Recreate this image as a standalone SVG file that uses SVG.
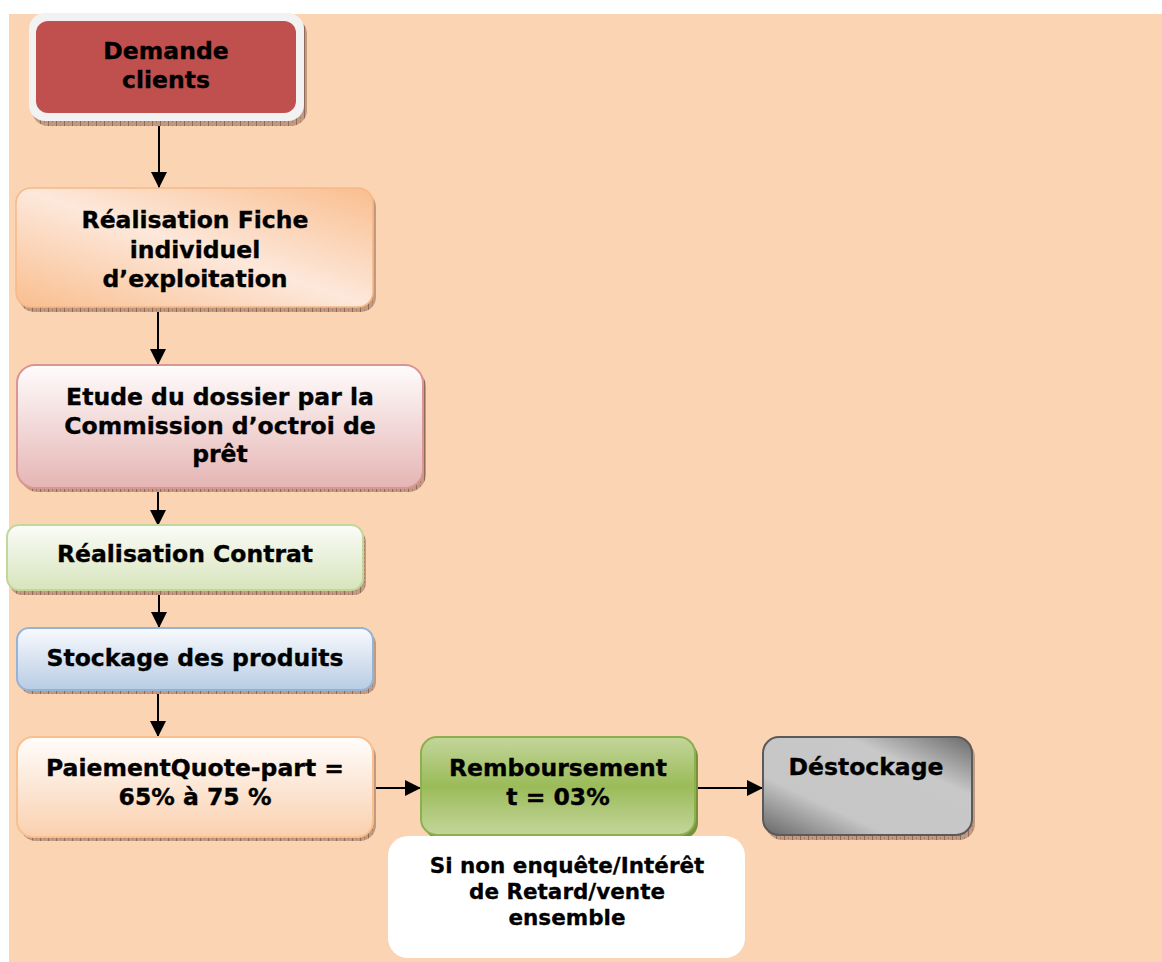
<svg xmlns="http://www.w3.org/2000/svg" width="1162" height="962" viewBox="0 0 1162 962">
  <defs>
    <style>
      .lbl { font-family: "DejaVu Sans", Verdana, sans-serif; font-weight: bold; font-size: 23.5px; fill: #000; stroke: #000; stroke-width: 0.35; text-anchor: middle; }
      .note { font-family: "DejaVu Sans", Tahoma, sans-serif; font-weight: bold; font-size: 21.5px; fill: #000; stroke: #000; stroke-width: 0.3; text-anchor: middle; }
      .conn { stroke: #000; stroke-width: 2; fill: none; marker-end: url(#arrow); }
      .shadow { fill: url(#hatch); }
    </style>
    <pattern id="hatch" patternUnits="userSpaceOnUse" width="8" height="4">
      <rect width="8" height="4" fill="#c29a80"/>
      <line x1="0.5" y1="0" x2="0.5" y2="4" stroke="#8e6b5a" stroke-width="1"/>
      <line x1="4.5" y1="1" x2="4.5" y2="3" stroke="#a88068" stroke-width="1"/>
    </pattern>
    <marker id="arrow" markerUnits="userSpaceOnUse" markerWidth="17" markerHeight="17" refX="16" refY="8" orient="auto">
      <path d="M0,0 L16,8 L0,16 z" fill="#000"/>
    </marker>
    <linearGradient id="gFiche" x1="1" y1="0" x2="0" y2="1">
      <stop offset="0" stop-color="#f9be8e"/>
      <stop offset="0.5" stop-color="#fde8db"/>
      <stop offset="1" stop-color="#f9be8e"/>
    </linearGradient>
    <linearGradient id="gEtude" x1="0" y1="0" x2="0" y2="1">
      <stop offset="0" stop-color="#fffcfc"/>
      <stop offset="1" stop-color="#e5b5b4"/>
    </linearGradient>
    <linearGradient id="gContrat" x1="0" y1="0" x2="0" y2="1">
      <stop offset="0" stop-color="#fbfcf8"/>
      <stop offset="1" stop-color="#d7e4bc"/>
    </linearGradient>
    <linearGradient id="gStock" x1="0" y1="0" x2="0" y2="1">
      <stop offset="0" stop-color="#f8fafd"/>
      <stop offset="1" stop-color="#b8cce4"/>
    </linearGradient>
    <linearGradient id="gPaie" x1="0" y1="0" x2="0" y2="1">
      <stop offset="0" stop-color="#fffdfc"/>
      <stop offset="1" stop-color="#fad0ae"/>
    </linearGradient>
    <linearGradient id="gRemb" x1="0" y1="0" x2="0" y2="1">
      <stop offset="0" stop-color="#c3d69b"/>
      <stop offset="0.5" stop-color="#9bbb59"/>
      <stop offset="1" stop-color="#c3d69b"/>
    </linearGradient>
    <linearGradient id="gDest" x1="1" y1="0" x2="0" y2="1">
      <stop offset="0" stop-color="#6a6a6a"/>
      <stop offset="0.3" stop-color="#c8c8c8"/>
      <stop offset="0.7" stop-color="#c6c6c6"/>
      <stop offset="1" stop-color="#666666"/>
    </linearGradient>
  </defs>

  <!-- page background -->
  <rect x="9" y="14" width="1153" height="948" fill="#fbd4b4"/>

  <!-- connectors -->
  <g id="connectors">
    <line class="conn" x1="159" y1="116" x2="159" y2="188"/>
    <line class="conn" x1="158" y1="308" x2="158" y2="365"/>
    <line class="conn" x1="158" y1="488" x2="158" y2="526"/>
    <line class="conn" x1="159" y1="591" x2="159" y2="628"/>
    <line class="conn" x1="158" y1="691" x2="158" y2="737"/>
    <line class="conn" x1="373" y1="788" x2="421" y2="788"/>
    <line class="conn" x1="687" y1="788" x2="763" y2="788"/>
  </g>

  <g id="node-demande">
    <rect class="shadow" x="32" y="18" width="275" height="108" rx="16"/>
    <rect x="29" y="13" width="275" height="108" rx="16" fill="#f2f2f2"/>
    <rect x="36" y="21" width="260" height="92" rx="12" fill="#c0504d"/>
    <text class="lbl" x="166" y="59">Demande</text>
    <text class="lbl" x="166" y="88">clients</text>
  </g>

  <g id="node-fiche">
    <rect class="shadow" x="19" y="192" width="357" height="120" rx="15"/>
    <rect x="16" y="188" width="357" height="119" rx="15" fill="url(#gFiche)" stroke="#f7b888" stroke-width="1.5"/>
    <text class="lbl" x="195" y="228">Réalisation Fiche</text>
    <text class="lbl" x="195" y="258">individuel</text>
    <text class="lbl" x="195" y="287">d’exploitation</text>
  </g>

  <g id="node-etude">
    <rect class="shadow" x="20" y="369" width="406" height="123" rx="18"/>
    <rect x="17" y="365" width="406" height="123" rx="18" fill="url(#gEtude)" stroke="#d99694" stroke-width="2"/>
    <text class="lbl" x="220" y="405">Etude du dossier par la</text>
    <text class="lbl" x="220" y="434">Commission d’octroi de</text>
    <text class="lbl" x="220" y="462">prêt</text>
  </g>

  <g id="node-contrat">
    <rect class="shadow" x="10" y="530" width="356" height="65" rx="12"/>
    <rect x="7" y="525" width="356" height="65" rx="12" fill="url(#gContrat)" stroke="#c3d69b" stroke-width="2"/>
    <text class="lbl" x="185" y="562">Réalisation Contrat</text>
  </g>

  <g id="node-stockage">
    <rect class="shadow" x="20" y="632" width="356" height="62" rx="12"/>
    <rect x="17" y="628" width="356" height="62" rx="12" fill="url(#gStock)" stroke="#95b3d7" stroke-width="2"/>
    <text class="lbl" x="195" y="666">Stockage des produits</text>
  </g>

  <g id="node-paiement">
    <rect class="shadow" x="20" y="741" width="356" height="100" rx="16"/>
    <rect x="17" y="737" width="356" height="100" rx="16" fill="url(#gPaie)" stroke="#f9bf8f" stroke-width="2"/>
    <text class="lbl" x="195" y="776">PaiementQuote-part =</text>
    <text class="lbl" x="195" y="805">65% à 75 %</text>
  </g>

  <g id="node-remboursement">
    <rect x="424" y="741" width="274" height="98" rx="16" fill="#76923c"/>
    <rect x="421" y="737" width="274" height="98" rx="16" fill="url(#gRemb)" stroke="#8cb04e" stroke-width="2"/>
    <text class="lbl" x="558" y="776">Remboursement</text>
    <text class="lbl" x="558" y="805">t = 03%</text>
  </g>

  <g id="node-destockage">
    <rect class="shadow" x="766" y="741" width="209" height="99" rx="16"/>
    <rect x="763" y="737" width="209" height="98" rx="16" fill="url(#gDest)" stroke="#5a5a5a" stroke-width="2"/>
    <text class="lbl" x="866" y="775">Déstockage</text>
  </g>

  <g id="node-note">
    <rect x="388" y="836" width="357" height="122" rx="20" fill="#ffffff"/>
    <text class="note" x="567" y="873">Si non enquête/Intérêt</text>
    <text class="note" x="567" y="899">de Retard/vente</text>
    <text class="note" x="567" y="925">ensemble</text>
  </g>
</svg>
